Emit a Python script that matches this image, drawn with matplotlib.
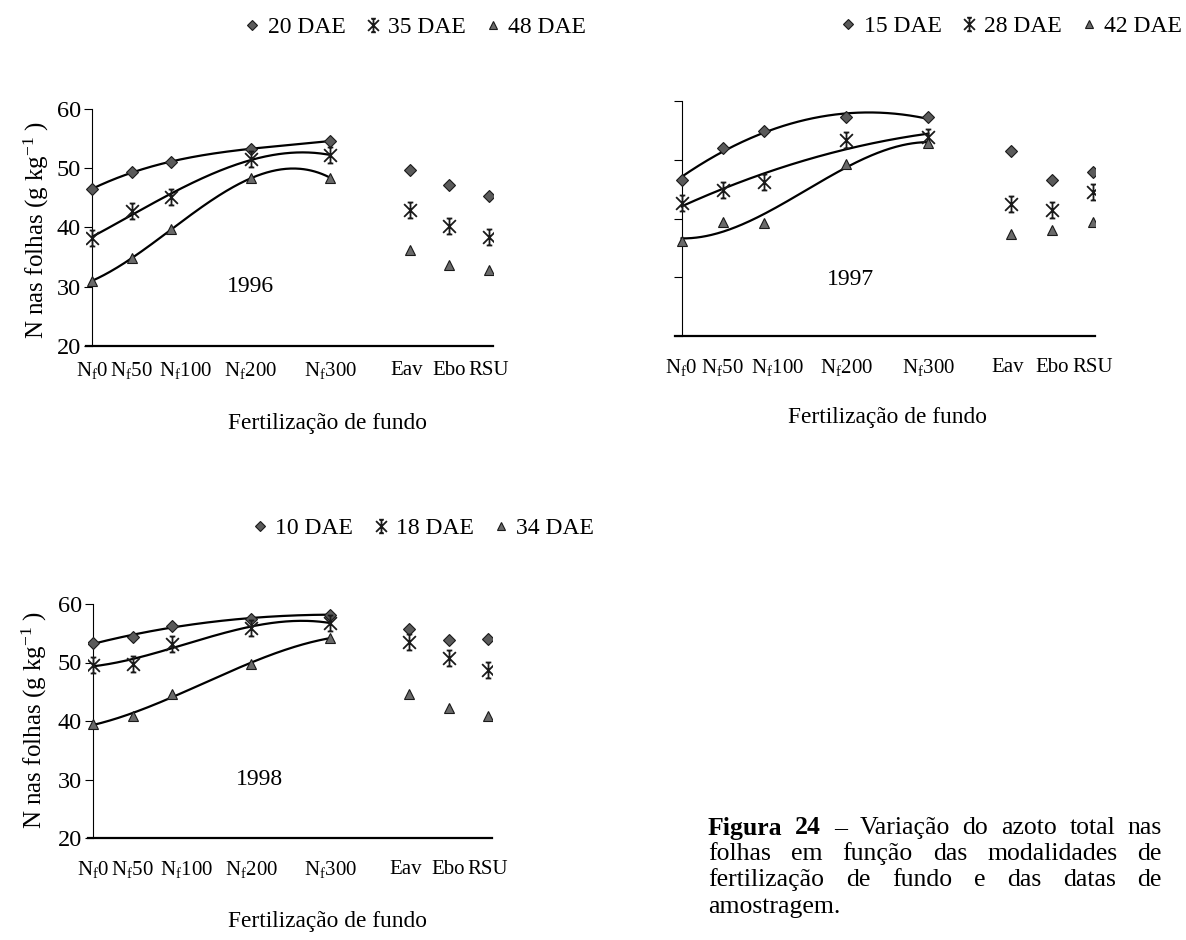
import numpy as np
import matplotlib
matplotlib.use("Agg")
import matplotlib.pyplot as plt
import matplotlib.transforms as mtransforms
from matplotlib.path import Path

plt.rcParams["font.family"] = ["Liberation Serif", "DejaVu Serif"]
plt.rcParams["mathtext.fontset"] = "custom"
plt.rcParams["mathtext.rm"] = "Liberation Serif"
plt.rcParams["mathtext.it"] = "Liberation Serif:italic"

W, H = 1186, 940

# treatments (x = N dose / 50)
positions = [0, 1, 2, 4, 6, 8, 9, 10]
tick_labels = [r"N$_\mathrm{f}$0", r"N$_\mathrm{f}$50", r"N$_\mathrm{f}$100",
               r"N$_\mathrm{f}$200", r"N$_\mathrm{f}$300", "Eav", "Ebo", "RSU"]
n_fit = 5  # only the Nf doses carry a trend line

# 1996
dae_1996 = ["20 DAE", "35 DAE", "48 DAE"]
n_1996_a = [46.5, 49.3, 51.1, 53.3, 54.6, 49.7, 47.1, 45.4]
n_1996_b = [38.2, 42.8, 45.1, 51.6, 52.2, 42.9, 40.2, 38.4]
n_1996_c = [31.0, 34.8, 39.7, 48.3, 48.4, 36.2, 33.6, 32.9]
order_1996 = [3, 3, 3]

# 1997
dae_1997 = ["15 DAE", "28 DAE", "42 DAE"]
n_1997_a = [46.6, 52.0, 54.9, 57.2, 57.2, 51.5, 46.5, 48.0]
n_1997_b = [42.7, 44.8, 46.2, 53.4, 53.9, 42.5, 41.5, 44.5]
n_1997_c = [36.1, 39.4, 39.2, 49.2, 52.9, 37.3, 38.0, 39.4]
order_1997 = [2, 2, 3]

# 1998
dae_1998 = ["10 DAE", "18 DAE", "34 DAE"]
n_1998_a = [53.3, 54.4, 56.3, 57.5, 58.2, 55.8, 53.8, 54.1]
n_1998_b = [49.6, 49.8, 53.2, 55.9, 56.8, 53.5, 50.7, 48.8]
n_1998_c = [39.5, 40.8, 44.6, 49.8, 54.2, 44.7, 42.2, 40.9]
order_1998 = [3, 3, 3]

# small horizontal nudges (px) of the category labels, as in the original
label_shift = [0, 0, 14, 0, 0, -3, 0, 0]

# excel-like "star" marker: X with a vertical bar and small caps
star = Path(
    [(0, -1), (0, 1), (-0.8, -0.8), (0.8, 0.8), (-0.8, 0.8), (0.8, -0.8),
     (-0.35, 1), (0.35, 1), (-0.35, -1), (0.35, -1)],
    [Path.MOVETO, Path.LINETO] * 5,
)

styles = [
    dict(marker="D", markersize=6, markerfacecolor="#5a5a5a", markeredgecolor="#1a1a1a", markeredgewidth=0.8),
    dict(marker=star, markersize=11.5, markerfacecolor="none", markeredgecolor="#1a1a1a", markeredgewidth=1.3),
    dict(marker="^", markersize=7, markerfacecolor="#6a6a6a", markeredgecolor="#1a1a1a", markeredgewidth=0.8),
]

fig = plt.figure(figsize=(W / 100, H / 100), dpi=100)


def px_axes(left, right, top, bottom):
    return fig.add_axes([left / W, 1 - bottom / H, (right - left) / W, (bottom - top) / H])


def draw_panel(ax, series, names, orders, xlim, year, year_xy, show_yticklabels, label_drop):
    xs = np.linspace(0, positions[n_fit - 1], 200)
    for vals, name, order, st in zip(series, names, orders, styles):
        coef = np.polyfit(positions[:n_fit], vals[:n_fit], order)
        ax.plot(xs, np.polyval(coef, xs), color="black", lw=1.6, zorder=2)
        ax.plot(positions, vals, linestyle="none", label=name, zorder=3, **st)
    ax.set_xlim(*xlim)
    ax.set_ylim(20, 60)
    ax.spines["left"].set_position(("data", 0))
    ax.spines["left"].set_linewidth(0.8)
    ax.spines["bottom"].set_linewidth(1.6)
    ax.spines["top"].set_visible(False)
    ax.spines["right"].set_visible(False)
    ax.set_yticks([20, 30, 40, 50, 60])
    ax.tick_params(axis="y", direction="out", length=6, width=0.8, pad=2, labelsize=17.5)
    if not show_yticklabels:
        ax.set_yticklabels([])
    ax.set_xticks(positions)
    ax.tick_params(axis="x", length=0, labelbottom=False)
    base = mtransforms.blended_transform_factory(ax.transData, ax.transAxes)
    for x, lab, dx in zip(positions, tick_labels, label_shift):
        tr = base + mtransforms.ScaledTranslation(dx / 100, -label_drop / 100, fig.dpi_scale_trans)
        ax.text(x, 0, lab, transform=tr, ha="center", va="center", fontsize=15, clip_on=False)
    ax.text(year_xy[0], year_xy[1], year, ha="center", va="center", fontsize=17)


def legend(ax, cx, cy):
    h, l = ax.get_legend_handles_labels()
    fig.legend(h, l, loc="center", bbox_to_anchor=(cx / W, 1 - cy / H), ncol=3,
               frameon=False, fontsize=17, handlelength=0.7, handletextpad=0.3,
               columnspacing=0.8, borderpad=0, markerscale=0.85)


ax1 = px_axes(86, 493, 109, 346)
draw_panel(ax1, [n_1996_a, n_1996_b, n_1996_c], dae_1996, order_1996, (-0.15, 10.1),
           "1996", (4.0, 30), True, 25)
legend(ax1, 415, 27)

ax2 = px_axes(675, 1095, 101, 336)
draw_panel(ax2, [n_1997_a, n_1997_b, n_1997_c], dae_1997, order_1997, (-0.16, 10.05),
           "1997", (4.1, 29.7), False, 31)
legend(ax2, 1011, 26)

ax3 = px_axes(88, 492, 604, 838)
draw_panel(ax3, [n_1998_a, n_1998_b, n_1998_c], dae_1998, order_1998, (-0.13, 10.1),
           "1998", (4.2, 30), True, 32)
legend(ax3, 423, 528)

ylab = r"N nas folhas (g kg$^{\mathrm{-1}}$ )"
fig.text(36 / W, 1 - 230 / H, ylab, rotation=90, ha="center", va="center", fontsize=18)
fig.text(34 / W, 1 - 720 / H, ylab, rotation=90, ha="center", va="center", fontsize=18)

xlab = "Fertilização de fundo"
fig.text(327 / W, 1 - 424 / H, xlab, ha="center", va="center", fontsize=16.8)
fig.text(888 / W, 1 - 418 / H, xlab, ha="center", va="center", fontsize=16.8)
fig.text(327 / W, 1 - 922 / H, xlab, ha="center", va="center", fontsize=16.8)

# justified caption
caption = [
    [("Figura", "bold"), ("24", "bold"), ("–", "normal"), ("Variação", "normal"), ("do", "normal"),
     ("azoto", "normal"), ("total", "normal"), ("nas", "normal")],
    [(w, "normal") for w in "folhas em função das modalidades de".split()],
    [(w, "normal") for w in "fertilização de fundo e das datas de".split()],
    [(w, "normal") for w in "amostragem.".split()],
]
cap_left, cap_right = 708, 1162
cap_y = [828, 854, 880, 907]
renderer = fig.canvas.get_renderer()
space = 5
for i, (words, y) in enumerate(zip(caption, cap_y)):
    texts = [fig.text(0, 1 - y / H, w, fontsize=18.5, fontweight=wt, ha="left", va="center")
             for w, wt in words]
    widths = [t.get_window_extent(renderer).width for t in texts]
    last = i == len(caption) - 1
    gap = space if last or len(words) < 2 else (cap_right - cap_left - sum(widths)) / (len(words) - 1)
    x = cap_left
    for t, w in zip(texts, widths):
        t.set_x(x / W)
        x += w + gap

fig.savefig("out.png", dpi=100)
